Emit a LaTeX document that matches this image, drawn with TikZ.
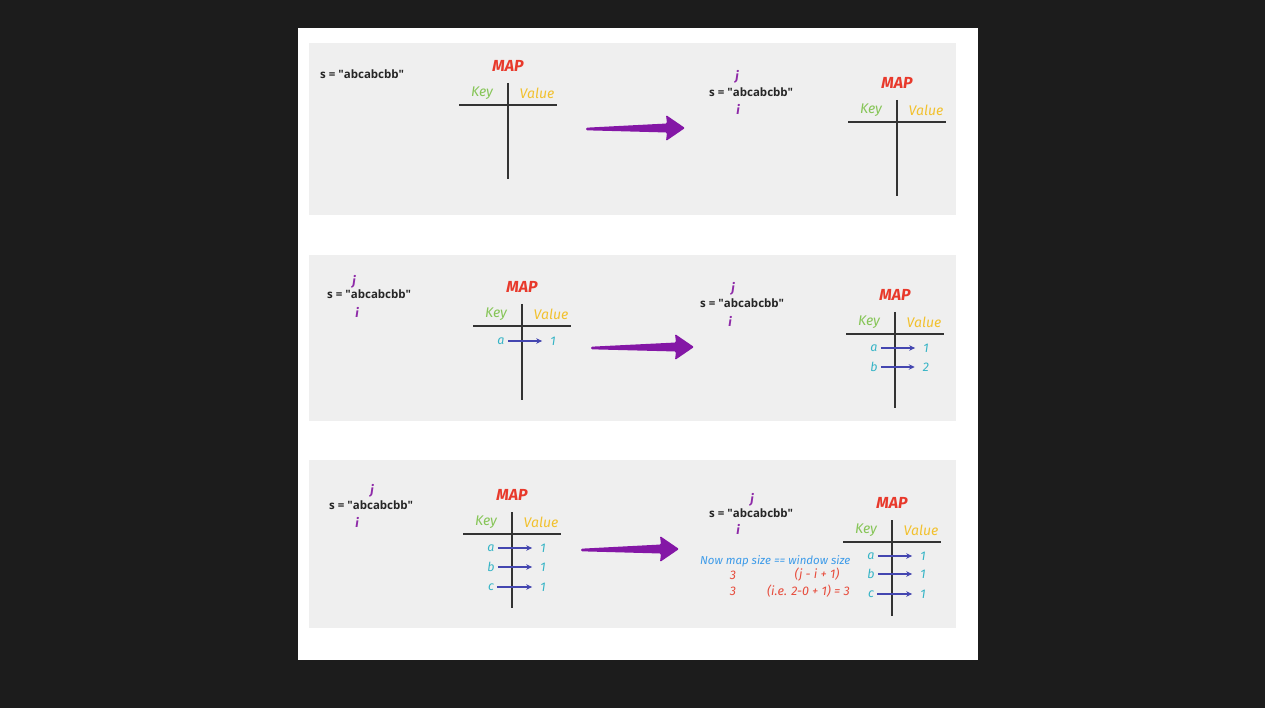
\documentclass[tikz,border=0pt]{standalone}
\usepackage{fontspec}
\setmainfont{Open Sans}
\newfontfamily\handfont{Fira Sans}
\usetikzlibrary{positioning, calc, arrows.meta}
\definecolor{bgdark}{HTML}{1c1c1c}
\definecolor{panel}{HTML}{efefef}
\definecolor{mapred}{HTML}{e8392b}
\definecolor{keygreen}{HTML}{86c557}
\definecolor{valyellow}{HTML}{f2c12e}
\definecolor{ptrpurple}{HTML}{8e2aa8}
\definecolor{rowcyan}{HTML}{35b4c6}
\definecolor{arrowblue}{HTML}{4446b0}
\definecolor{noteblue}{HTML}{3d9be9}
\definecolor{notered}{HTML}{e74c3c}
\definecolor{fatpurple}{HTML}{8417a6}

% straight double quote, kept out of the tex-text mapping
\newcommand{\sq}{\XeTeXglyph\XeTeXcharglyph"22\relax}
\newcommand{\sstr}{s = \sq abcabcbb\sq}
% one key/value table, centred on the cross point #2
\newcommand{\maptab}[2]{%
  \begin{scope}[shift={(#2)}]
    \node[maptitle] (#1map) at (0,-39) {MAP};
    \node[keyhd] (#1key) at (-26,-12) {Key};
    \node[valhd] (#1val) at (29,-12) {Value};
    \draw[tabline] (-49,0) -- (49,0);
    \draw[tabline] (0,-22) -- (0,74);
  \end{scope}}
% one row of a table: name, cross point, offset, key, value
\newcommand{\maprow}[5]{%
  \node[kv] (#1k) at ($(#2)+(-21,#3)$) {#4};
  \node[kv] (#1v) at ($(#2)+(31,#3)$) {#5};
  \draw[maparr] (#1k) -- (#1v);}
% big tapered arrow between the two halves of a panel
\newcommand{\fatarrow}[2]{%
  \fill[fatarr] ($(#1)+(0,-1.3)$) -- ($(#2)+(-18,-4.5)$) -- ($(#2)+(-19,-13)$)
    -- (#2) -- ($(#2)+(-19,13)$) -- ($(#2)+(-18,4.5)$) -- ($(#1)+(0,1.3)$) -- cycle;}

\begin{document}
\begin{tikzpicture}[x=1pt, y=-1pt,
  str/.style={font=\fontsize{11.5}{13}\selectfont\bfseries, text=black!85, inner sep=0pt, anchor=west},
  maptitle/.style={font=\handfont\fontsize{16}{18}\selectfont\bfseries\itshape, text=mapred, inner sep=0pt},
  keyhd/.style={font=\handfont\fontsize{14}{16}\selectfont\itshape, text=keygreen, inner sep=0pt},
  valhd/.style={font=\handfont\fontsize{14}{16}\selectfont\itshape, text=valyellow, inner sep=0pt},
  ptr/.style={font=\handfont\fontsize{12.5}{14}\selectfont\bfseries\itshape, text=ptrpurple, inner sep=0pt},
  kv/.style={font=\handfont\fontsize{12.5}{14}\selectfont\itshape, text=rowcyan, inner sep=1pt},
  bluenote/.style={font=\handfont\fontsize{11.5}{13}\selectfont\itshape, text=noteblue, inner sep=0pt},
  rednote/.style={font=\handfont\fontsize{12.5}{14}\selectfont\itshape, text=notered, inner sep=0pt},
  tabline/.style={draw=black!80, line width=1.1pt},
  maparr/.style={draw=arrowblue, line width=1.3pt, -{Stealth[length=6pt, width=5.5pt]},
    shorten <=2pt, shorten >=7pt},
  fatarr/.style={fill=fatpurple, rounded corners=1.2pt}
]
  \fill[bgdark] (0,0) rectangle (1265,708);
  \useasboundingbox (0,0) rectangle (1265,708);
  \fill[white] (298,28) rectangle (978,660);
  \fill[panel] (309,43) rectangle (956,215);
  \fill[panel] (309,255) rectangle (956,421);
  \fill[panel] (309,460) rectangle (956,628);

  % panel 1
  \node[str] (s1a) at (320,74) {\sstr};
  \coordinate (c1a) at (508,105);
  \maptab{t1a}{c1a}
  \coordinate (t1) at (586,129);
  \coordinate (h1) at (685,128);
  \fatarrow{t1}{h1}
  \node[ptr] (j1b) at (737,77) {j};
  \node[str] (s1b) at (709,92) {\sstr};
  \node[ptr] (i1b) at (738,109) {i};
  \coordinate (c1b) at (897,122);
  \maptab{t1b}{c1b}

  % panel 2
  \node[ptr] (j2a) at (354,282) {j};
  \node[str] (s2a) at (327,294) {\sstr};
  \node[ptr] (i2a) at (357,312) {i};
  \coordinate (c2a) at (522,326);
  \maptab{t2a}{c2a}
  \maprow{r2aa}{c2a}{15}{a}{1}
  \coordinate (t2) at (591,348);
  \coordinate (h2) at (694,347);
  \fatarrow{t2}{h2}
  \node[ptr] (j2b) at (733,289) {j};
  \node[str] (s2b) at (700,303) {\sstr};
  \node[ptr] (i2b) at (730,321) {i};
  \coordinate (c2b) at (895,334);
  \maptab{t2b}{c2b}
  \maprow{r2ba}{c2b}{14}{a}{1}
  \maprow{r2bb}{c2b}{33}{b}{2}

  % panel 3
  \node[ptr] (j3a) at (372,491) {j};
  \node[str] (s3a) at (329,505) {\sstr};
  \node[ptr] (i3a) at (357,522) {i};
  \coordinate (c3a) at (512,534);
  \maptab{t3a}{c3a}
  \maprow{r3aa}{c3a}{14}{a}{1}
  \maprow{r3ab}{c3a}{33}{b}{1}
  \maprow{r3ac}{c3a}{53}{c}{1}
  \coordinate (t3) at (581,550);
  \coordinate (h3) at (679,549);
  \fatarrow{t3}{h3}
  \node[ptr] (j3b) at (752,500) {j};
  \node[str] (s3b) at (709,513) {\sstr};
  \node[ptr] (i3b) at (738,529) {i};
  \coordinate (c3b) at (892,542);
  \maptab{t3b}{c3b}
  \maprow{r3ba}{c3b}{14}{a}{1}
  \maprow{r3bb}{c3b}{32}{b}{1}
  \maprow{r3bc}{c3b}{52}{c}{1}
  \node[bluenote, anchor=west] (n1) at (700,561) {Now map size == window size};
  \node[rednote] (n2) at (733,575) {3};
  \node[rednote] (n3) at (817,575) {(j - i + 1)};
  \node[rednote] (n4) at (733,591) {3};
  \node[rednote, anchor=west] (n5) at (767,591) {(i.e. 2-0 + 1) = 3};
\end{tikzpicture}
\end{document}
